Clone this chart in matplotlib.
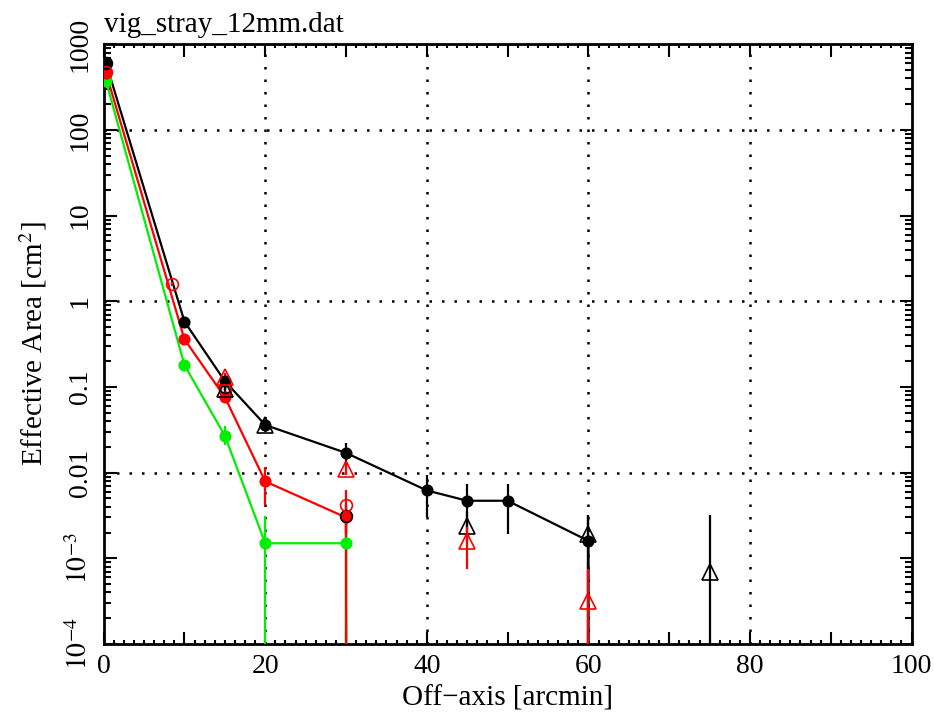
import numpy as np
import matplotlib
matplotlib.use("Agg")
import matplotlib.pyplot as plt
from matplotlib.ticker import FixedLocator, LogLocator, NullFormatter, MultipleLocator

plt.rcParams['font.family'] = ['Liberation Serif', 'DejaVu Serif']
plt.rcParams['mathtext.fontset'] = 'stix'

# filled circles joined by lines (zero = no detection, line drops off the axis)
x_blk = [0.3, 10, 15, 20, 30, 40, 45, 50, 60, 75]
y_blk = [600, 0.58, 0.117, 0.036, 0.017, 0.0062, 0.0047, 0.0047, 0.0016, 0]
lo_blk = [560, 0.55, 0.105, 0.033, 0.012, 0.0030, 0.0022, 0.0019, 0, 0]
hi_blk = [640, 0.61, 0.13, 0.040, 0.022, 0.0093, 0.0074, 0.0074, 0.0032, 0]

x_red = [0.3, 10, 15, 20, 30, 40]
y_red = [460, 0.36, 0.076, 0.0079, 0.0030, 0]
lo_red = [430, 0.34, 0.068, 0.0042, 0.0020, 0]
hi_red = [490, 0.38, 0.085, 0.0115, 0.0042, 0]

x_grn = [0.3, 10, 15, 20, 30, 40]
y_grn = [370, 0.18, 0.027, 0.0015, 0.0015, 0]
lo_grn = [350, 0.17, 0.021, 0, 0, 0]
hi_grn = [390, 0.19, 0.035, 0.0031, 0.0024, 0]

# open circles
x_oc_red = [0.3, 8.5, 15, 30]
y_oc_red = [470, 1.6, 0.093, 0.0042]
lo_oc_red = [440, 1.5, 0.085, 0]
hi_oc_red = [500, 1.7, 0.10, 0.0062]

x_oc_blk = [0.3, 15, 30]
y_oc_blk = [600, 0.10, 0.0031]
lo_oc_blk = [570, 0.092, 0.0019]
hi_oc_blk = [630, 0.11, 0.0042]

# open triangles
x_tr_blk = [15, 20, 45, 60, 75]
y_tr_blk = [0.095, 0.036, 0.0024, 0.0019, 0.0007]
lo_tr_blk = [0.085, 0.032, 0.0015, 0, 0]
hi_tr_blk = [0.105, 0.040, 0.0035, 0.0032, 0.0032]

x_tr_red = [15, 30, 45, 60]
y_tr_red = [0.13, 0.011, 0.0016, 0.00032]
lo_tr_red = [0.115, 0.0095, 0.00076, 0]
hi_tr_red = [0.145, 0.0125, 0.0023, 0.00076]

xgrid = [20, 40, 60, 80]
ygrid = [100, 1, 0.01]
yticks = [1e-4, 1e-3, 0.01, 0.1, 1, 10, 100, 1000]
ylabels = [r'$10^{-4}$', r'$10^{-3}$', '0.01', '0.1', '1', '10', '100', '1000']

fig = plt.figure(figsize=(9.34, 7.14), dpi=100)
ax = fig.add_axes([0.111, 0.098, 0.865, 0.84])
ax.set_yscale('log')

for g in xgrid:
    ax.axvline(g, color='black', lw=1.8, ls=(0, (1, 4)), zorder=0)
for g in ygrid:
    ax.axhline(g, color='black', lw=1.8, ls=(0, (1, 4)), zorder=0)


def series(x, y, lo, hi, color, marker, mfc, ms, line):
    x = np.array(x, float)
    y = np.array(y, float)
    lo = np.array(lo, float)
    hi = np.array(hi, float)
    if line:
        ax.plot(x, y, '-', color=color, lw=1.6, zorder=3)
    m = y > 0
    yerr = [y[m] - lo[m], hi[m] - y[m]]
    ax.errorbar(x[m], y[m], yerr=yerr, fmt=marker, color=color, ecolor=color,
                elinewidth=1.6, capsize=0, ms=ms, mfc=mfc, mec=color, mew=1.2,
                zorder=4)


series(x_grn, y_grn, lo_grn, hi_grn, '#00ee00', 'o', '#00ee00', 7.5, True)
series(x_red, y_red, lo_red, hi_red, 'red', 'o', 'red', 7.5, True)
series(x_blk, y_blk, lo_blk, hi_blk, 'black', 'o', 'black', 7.5, True)
series(x_oc_blk, y_oc_blk, lo_oc_blk, hi_oc_blk, 'black', 'o', 'none', 8.5, False)
series(x_oc_red, y_oc_red, lo_oc_red, hi_oc_red, 'red', 'o', 'none', 8.5, False)
series(x_tr_blk, y_tr_blk, lo_tr_blk, hi_tr_blk, 'black', '^', 'none', 11, False)
series(x_tr_red, y_tr_red, lo_tr_red, hi_tr_red, 'red', '^', 'none', 11, False)

ax.set_xlim(0, 100)
ax.set_ylim(1e-4, 1000)
ax.yaxis.set_major_locator(FixedLocator(yticks))
ax.set_yticklabels(ylabels, rotation=90, va='center')
ax.yaxis.set_minor_locator(LogLocator(base=10, subs=np.arange(2, 10), numticks=20))
ax.yaxis.set_minor_formatter(NullFormatter())

# major ticks at every 10 on x, labels only at the even twenties
ax.set_xticks([0, 10, 20, 30, 40, 50, 60, 70, 80, 90, 100])
ax.set_xticklabels(['0', '', '20', '', '40', '', '60', '', '80', '', '100'])
ax.xaxis.set_minor_locator(MultipleLocator(1.25))

ax.tick_params(which='both', direction='in', top=True, right=True,
               labelsize=20, width=1.5, colors='black')
ax.tick_params(which='major', length=9)
ax.tick_params(which='minor', length=5)
ax.tick_params(axis='x', which='minor', length=3)
ax.tick_params(axis='x', which='major', pad=7)
ax.tick_params(axis='y', which='major', pad=8)
for s in ax.spines.values():
    s.set_linewidth(2)

ax.set_xlabel('Off\u2212axis [arcmin]', fontsize=21, labelpad=5)
ax.set_ylabel(r'Effective Area [cm$^2$]', fontsize=21, labelpad=12)
ax.set_title('vig_stray_12mm.dat', loc='left', fontsize=21, pad=9)

fig.savefig('out.png', dpi=100)
